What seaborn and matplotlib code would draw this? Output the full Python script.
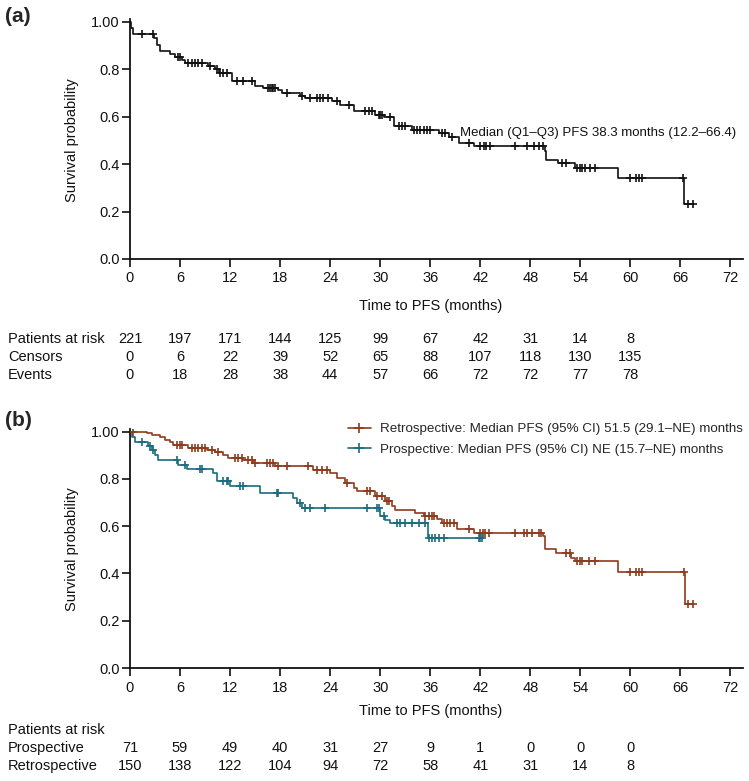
import numpy as np
import matplotlib
matplotlib.use("Agg")
import matplotlib.pyplot as plt
import matplotlib.transforms as mtransforms
from matplotlib.lines import Line2D
import seaborn as sns

# ---------------- data ----------------
x_ticks = [0, 6, 12, 18, 24, 30, 36, 42, 48, 54, 60, 66, 72]
y_ticks = [0.0, 0.2, 0.4, 0.6, 0.8, 1.0]
y_tick_labels = ["0.0", "0.2", "0.4", "0.6", "0.8", "1.00"]
risk_times = [0, 6, 12, 18, 24, 30, 36, 42, 48, 54, 60]

# Panel (a): overall
a_event_t = [0.15, 0.4, 2.9, 3.2, 3.6, 4.8, 5.4, 6.2, 6.6, 9.4, 10.2, 10.7, 12.2,
             15.0, 16.0, 17.8, 18.2, 20.4, 21.0, 24.2, 25.2, 26.8, 29.4, 30.4,
             31.6, 33.8, 37.0, 38.2, 39.4, 41.2, 49.7, 49.9, 51.3, 53.3, 58.5, 66.4]
a_event_s = [0.972, 0.950, 0.930, 0.900, 0.875, 0.863, 0.853, 0.840, 0.826, 0.815,
             0.800, 0.785, 0.748, 0.730, 0.720, 0.710, 0.700, 0.685, 0.677, 0.664,
             0.650, 0.622, 0.608, 0.599, 0.562, 0.545, 0.531, 0.514, 0.489, 0.478,
             0.454, 0.419, 0.406, 0.384, 0.342, 0.230]
a_censor_t = [1.4, 2.8, 5.8, 6.0, 7.0, 7.4, 7.8, 8.2, 8.6, 9.6, 10.4, 10.8, 11.2,
              11.6, 12.8, 13.6, 14.6, 16.6, 16.8, 17.0, 17.2, 17.4, 18.8, 20.6,
              21.6, 22.4, 22.8, 23.2, 23.8, 24.8, 26.2, 28.2, 28.6, 29.0, 29.8,
              30.0, 30.2, 31.2, 32.2, 32.6, 33.0, 34.0, 34.4, 34.8, 35.2, 35.6,
              36.0, 37.4, 37.8, 38.6, 40.6, 42.0, 42.4, 42.7, 43.2, 46.2, 47.6,
              48.4, 49.0, 49.5, 51.8, 52.3, 53.6, 53.9, 54.2, 54.6, 55.2, 55.8,
              60.0, 60.7, 61.0, 61.4, 66.3, 66.9, 67.5]
a_at_risk = [221, 197, 171, 144, 125, 99, 67, 42, 31, 14, 8]
a_censors = [0, 6, 22, 39, 52, 65, 88, 107, 118, 130, 135]
a_events = [0, 18, 28, 38, 44, 57, 66, 72, 72, 77, 78]
a_note = "Median (Q1\u2013Q3) PFS 38.3 months (12.2\u201366.4)"

# Panel (b): retrospective
r_event_t = [2.0, 2.6, 3.6, 4.2, 4.8, 5.2, 7.0, 9.2, 10.2, 11.2, 11.8, 13.6, 14.8,
             17.4, 22.0, 24.0, 24.8, 25.8, 26.8, 27.2, 29.4, 30.6, 31.4, 31.8,
             34.2, 35.2, 36.8, 37.4, 39.2, 41.2, 49.5, 49.8, 51.1, 52.9, 53.4,
             58.5, 66.5]
r_event_s = [0.993, 0.986, 0.979, 0.965, 0.958, 0.944, 0.930, 0.923, 0.916, 0.900,
             0.888, 0.878, 0.867, 0.855, 0.838, 0.824, 0.803, 0.782, 0.761, 0.747,
             0.726, 0.705, 0.684, 0.670, 0.654, 0.643, 0.629, 0.615, 0.589, 0.573,
             0.560, 0.502, 0.488, 0.467, 0.453, 0.408, 0.270]
r_censor_t = [0.4, 5.6, 6.0, 6.2, 7.4, 7.8, 8.2, 8.6, 9.0, 9.8, 10.6, 12.6, 13.0,
              13.4, 14.2, 14.6, 15.0, 16.4, 16.8, 17.2, 17.8, 18.8, 21.4, 22.4,
              23.0, 23.6, 26.0, 28.4, 28.8, 29.6, 30.2, 30.8, 31.0, 35.4, 35.8,
              36.2, 36.4, 37.6, 38.0, 38.4, 38.8, 40.6, 42.0, 42.3, 42.6, 43.0,
              46.2, 47.2, 47.6, 48.2, 49.0, 49.3, 52.3, 52.7, 53.6, 53.9, 54.2,
              55.0, 55.8, 60.0, 60.7, 61.0, 61.4, 66.4, 66.9, 67.5]
# Panel (b): prospective
p_event_t = [0.2, 0.6, 2.2, 2.6, 3.0, 3.4, 5.8, 6.8, 10.0, 10.4, 12.0, 15.6, 19.6,
             20.0, 20.6, 30.0, 30.6, 31.2, 35.7]
p_event_s = [0.979, 0.958, 0.940, 0.923, 0.900, 0.880, 0.860, 0.840, 0.824, 0.790,
             0.768, 0.740, 0.718, 0.698, 0.677, 0.642, 0.628, 0.614, 0.551]
p_censor_t = [1.4, 2.4, 2.7, 5.6, 6.6, 8.4, 8.6, 11.2, 11.6, 11.8, 13.2, 13.6, 17.6,
              17.7, 20.4, 21.0, 21.6, 23.4, 28.4, 29.6, 29.8, 30.4, 32.0, 32.4,
              33.0, 33.8, 34.6, 35.4, 35.9, 36.2, 36.6, 37.0, 37.6, 41.8, 42.0, 42.2]
p_at_risk = [71, 59, 49, 40, 31, 27, 9, 1, 0, 0, 0]
r_at_risk = [150, 138, 122, 104, 94, 72, 58, 41, 31, 14, 8]
legend_labels = ["Retrospective: Median PFS (95% CI) 51.5 (29.1\u2013NE) months",
                 "Prospective: Median PFS (95% CI) NE (15.7\u2013NE) months"]

# ---------------- style ----------------
sns.set_theme(style="ticks")
plt.rcParams['font.family'] = ['Liberation Sans', 'DejaVu Sans']
FS = 10.5
BLACK = "#111111"
BROWN = "#8E3B1D"
TEAL = "#1B6C7C"

W, H = 749, 781
fig = plt.figure(figsize=(W / 100, H / 100), dpi=100)


def rect(left, right, top, bottom):
    return [left / W, 1 - bottom / H, (right - left) / W, (bottom - top) / H]


ax_a = fig.add_axes(rect(130, 743, 19.3, 259))
ax_b = fig.add_axes(rect(130, 743, 429.3, 668))


def km_xy(ev_t, ev_s, cen_t):
    end = max(max(ev_t), max(cen_t))
    xs = [0.0] + list(ev_t) + [end]
    ys = [1.0] + list(ev_s) + [ev_s[-1]]
    lookup = np.array([1.0] + list(ev_s))
    idx = np.searchsorted(np.array(ev_t), np.array(cen_t), side="right")
    return xs, ys, lookup[idx]


def draw_curve(ax, ev_t, ev_s, cen_t, color):
    xs, ys, cy = km_xy(ev_t, ev_s, cen_t)
    sns.lineplot(x=xs, y=ys, ax=ax, drawstyle="steps-post", color=color,
                 linewidth=1.2, estimator=None, sort=False, legend=False)
    sns.scatterplot(x=cen_t, y=cy, ax=ax, marker="+", s=40, color=color,
                    linewidth=1.2, legend=False, zorder=3)


def style_axes(ax):
    ax.set_xlim(0, 73.5)
    ax.set_ylim(0, 1.01)
    ax.set_xticks(x_ticks)
    ax.set_xticklabels([str(t) for t in x_ticks])
    ax.set_yticks(y_ticks)
    ax.set_yticklabels(y_tick_labels)
    sns.despine(ax=ax)
    for sp in ["left", "bottom"]:
        ax.spines[sp].set_linewidth(1.3)
        ax.spines[sp].set_color(BLACK)
    ax.tick_params(axis="x", length=6, width=1.2, pad=3, labelsize=FS, colors=BLACK)
    ax.tick_params(axis="y", length=6, width=1.2, pad=1.5, labelsize=FS, colors=BLACK)
    ax.set_xlabel("")
    ax.set_ylabel("")
    ax.set_facecolor("white")


draw_curve(ax_a, a_event_t, a_event_s, a_censor_t, BLACK)
style_axes(ax_a)
ax_a.text(39.6, 0.531, a_note, fontsize=9.5, ha="left", va="center", color=BLACK)

draw_curve(ax_b, r_event_t, r_event_s, r_censor_t, BROWN)
draw_curve(ax_b, p_event_t, p_event_s, p_censor_t, TEAL)
style_axes(ax_b)
handles = [Line2D([], [], color=BROWN, lw=1.2, marker="+", markersize=7, mew=1.2),
           Line2D([], [], color=TEAL, lw=1.2, marker="+", markersize=7, mew=1.2)]
ax_b.legend(handles, legend_labels, loc="upper left",
            bbox_to_anchor=((348 - 130) / 613, (668 - 423) / 238.7),
            frameon=False, fontsize=9.6, handlelength=1.7, handletextpad=0.7,
            labelspacing=0.6, borderpad=0, borderaxespad=0)

# panel letters, axis labels
fig.text(5 / W, 1 - 17 / H, "(a)", fontsize=15, fontweight="bold", ha="left", va="center")
fig.text(5 / W, 1 - 420 / H, "(b)", fontsize=15, fontweight="bold", ha="left", va="center")
for yc in (140, 549):
    fig.text(72 / W, 1 - yc / H, "Survival probability", rotation=90,
             ha="center", va="center", fontsize=10.5, color=BLACK)
for ax, yc in ((ax_a, 306), (ax_b, 711)):
    tr = mtransforms.blended_transform_factory(ax.transData, fig.transFigure)
    ax.text(36, 1 - yc / H, "Time to PFS (months)", transform=tr,
            ha="center", va="center", fontsize=FS, color=BLACK)


def risk_row(ax, label, values, ypx):
    fig.text(8 / W, 1 - ypx / H, label, ha="left", va="center", fontsize=FS, color=BLACK)
    if values is None:
        return
    tr = mtransforms.blended_transform_factory(ax.transData, fig.transFigure)
    for t, v in zip(risk_times, values):
        ax.text(t, 1 - ypx / H, str(v), transform=tr, ha="center", va="center",
                fontsize=FS, color=BLACK)


risk_row(ax_a, "Patients at risk", a_at_risk, 339)
risk_row(ax_a, "Censors", a_censors, 357)
risk_row(ax_a, "Events", a_events, 375)
risk_row(ax_b, "Patients at risk", None, 730)
risk_row(ax_b, "Prospective", p_at_risk, 748)
risk_row(ax_b, "Retrospective", r_at_risk, 766)

fig.savefig("out.png", dpi=100, facecolor="white")
